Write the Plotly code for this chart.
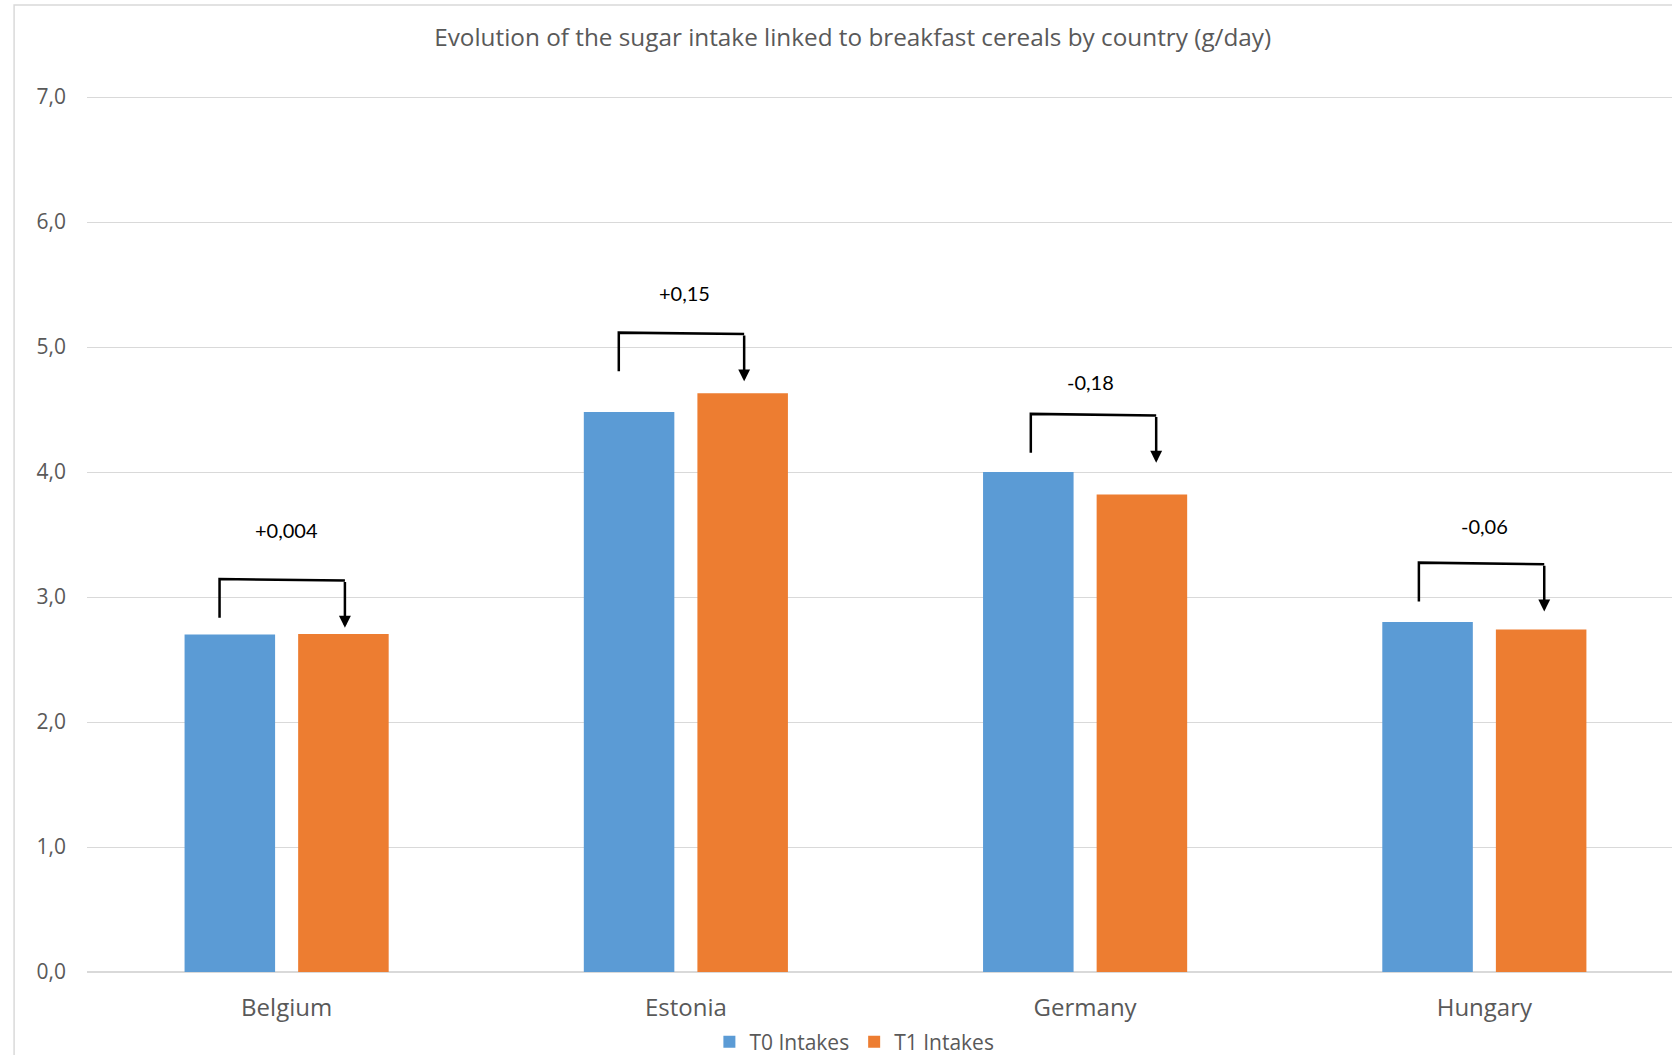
import plotly.graph_objects as go

# Sugar intake linked to breakfast cereals (g/day), per country
countries = ["Belgium", "Estonia", "Germany", "Hungary"]
t0_intakes = [2.70, 4.48, 4.00, 2.80]
t1_intakes = [2.704, 4.63, 3.82, 2.74]
change_labels = ["+0,004", "+0,15", "-0,18", "-0,06"]

BLUE = "#5B9BD5"
ORANGE = "#ED7D31"
GRID = "#D9D9D9"
TEXT = "#595959"

# Hand-placed nudges for each bracket (x in category units, y in g/day)
bracket_dx = [0.0, 0.0, 0.032, 0.004]
bracket_dy = [-0.01, 0.035, 0.015, 0.025]
label_dx = [0.0, -0.003, 0.013, 0.0]
label_dy = [0.045, 0.01, -0.07, -0.02]

fig = go.Figure()
fig.add_trace(go.Bar(x=countries, y=t0_intakes, name="T0 Intakes",
                     marker=dict(color=BLUE, line=dict(width=0))))
fig.add_trace(go.Bar(x=countries, y=t1_intakes, name="T1 Intakes",
                     marker=dict(color=ORANGE, line=dict(width=0))))

# Bracket arrows going from the T0 bar to the T1 bar, with the change above
left_off, right_off = -0.168, 0.146
for i, (a, b, lab) in enumerate(zip(t0_intakes, t1_intakes, change_labels)):
    top = max(a, b) + 0.45 + bracket_dy[i]
    xl, xr = i + left_off + bracket_dx[i], i + right_off + bracket_dx[i]
    fig.add_shape(type="path",
                  path=f"M {xl},{top - 0.31} L {xl},{top} L {xr},{top - 0.012}",
                  xref="x", yref="y", line=dict(color="black", width=2.5))
    fig.add_annotation(x=xr, y=top - 0.39, ax=xr, ay=top - 0.012,
                       xref="x", yref="y", axref="x", ayref="y",
                       text="", showarrow=True, arrowhead=2, arrowsize=0.95,
                       arrowwidth=2.5, arrowcolor="black", standoff=0)
    fig.add_annotation(x=i + label_dx[i], y=max(a, b) + 0.45 + 0.34 + label_dy[i],
                       xref="x", yref="y", text=lab, showarrow=False,
                       font=dict(family="Lato, sans-serif", size=20, color="black"))

# Outer chart frame (top and left edges)
fig.add_shape(type="rect", xref="paper", yref="paper",
              x0=-0.046, x1=1.2, y0=-0.3, y1=1.0179,
              line=dict(color=GRID, width=1.5), layer="below")

fig.update_layout(
    width=1672, height=1055,
    margin=dict(l=87, r=0, t=22, b=83, autoexpand=False),
    paper_bgcolor="white", plot_bgcolor="white",
    separators=", ",
    barmode="group", bargap=0.431, bargroupgap=0.203,
    font=dict(family="Open Sans, sans-serif", color=TEXT),
    title=dict(text="Evolution of the sugar intake linked to breakfast cereals by country (g/day)",
               x=0.510, xanchor="center", xref="container",
               y=1 - 37 / 1055, yanchor="middle", yref="container",
               font=dict(size=24.3, color=TEXT)),
    legend=dict(orientation="h", x=0.511, xanchor="center", xref="container",
                y=1 - 1042 / 1055, yanchor="middle", yref="container",
                font=dict(size=21, color=TEXT), bgcolor="rgba(0,0,0,0)"),
    showlegend=True,
    hovermode=False,
)
fig.update_xaxes(range=[-0.5, 3.47], showgrid=False, showline=False,
                 ticks="", tickfont=dict(size=24, color=TEXT),
                 ticklabelstandoff=19)
fig.update_yaxes(range=[0, 7.6], tickvals=[0, 1, 2, 3, 4, 5, 6, 7],
                 tickformat=".1f", showgrid=True, gridcolor=GRID, gridwidth=1.3,
                 zeroline=True, zerolinecolor=GRID, zerolinewidth=1.5,
                 showline=False, ticks="", tickfont=dict(size=21, color=TEXT),
                 ticklabelstandoff=20)

fig.write_html("out.html")
